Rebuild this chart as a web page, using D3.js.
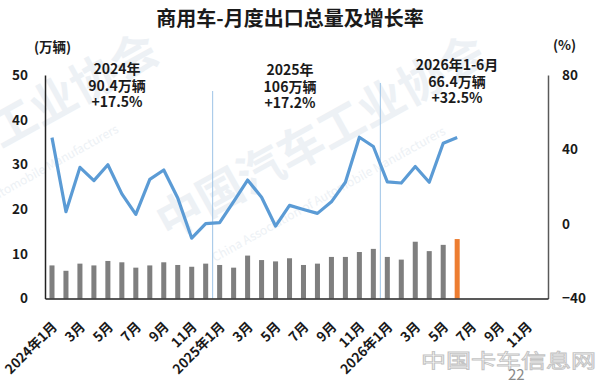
<!DOCTYPE html>
<html lang="zh">
<head>
  <meta charset="UTF-8">
  <title>商用车-月度出口总量及增长率</title>
  <script src="https://d3js.org/d3.v7.min.js"></script>
  <style>
    body { margin: 0; background: #fff; }
    svg { display: block; font-family: "Noto Sans CJK SC", "Noto Sans", sans-serif; }
  </style>
</head>
<body>
<svg id="chart" width="600" height="380"></svg>
<script>
  // 月份 2024年1月 ~ 2026年12月
  const months = [];
  [2024, 2025, 2026].forEach(y => { for (let m = 1; m <= 12; m++) months.push(y + "-" + m); });

  // 出口量 (万辆), 2024.1 - 2026.6
  const volume = [
    7.4, 6.2, 7.8, 7.4, 8.4, 8.1, 6.9, 7.4, 8.1, 7.5, 7.1, 7.8,
    7.5, 6.9, 9.6, 8.6, 8.3, 9.0, 7.5, 7.8, 9.3, 9.3, 10.4, 11.1,
    9.3, 8.7, 12.7, 10.6, 12.0, 13.3
  ];
  // 同比增长率 (%)
  const growth = [
    46.4, 6.6, 30.4, 23.3, 31.8, 16.2, 5.2, 24.0, 29.0, 14.0, -7.6, 0.2,
    0.7, 12.0, 23.6, 14.4, -1.1, 10.0, 7.8, 5.7, 11.9, 22.4, 46.6, 41.6,
    22.6, 22.0, 30.9, 22.4, 43.4, 46.4
  ];
  const leftTicks = [0, 10, 20, 30, 40, 50];
  const rightTicks = [-40, 0, 40, 80];
  const yearNotes = [
    { lines: ["2024年", "90.4万辆", "+17.5%"], x: 117, y: 74 },
    { lines: ["2025年", "106万辆", "+17.2%"], x: 290, y: 75 },
    { lines: ["2026年1-6月", "66.4万辆", "+32.5%"], x: 457, y: 70 }
  ];

  (() => {
  const svg = d3.select("#chart");
  const pl = 45, pr = 548, pt = 75, pb = 298.5;

  // watermarks (faint)
  const wm = svg.append("g").attr("fill", "#edf1f5");
  wm.append("text").attr("transform", "translate(168,240) rotate(-29)")
    .attr("font-size", 46).attr("font-weight", "bold").text("中国汽车工业协会");
  wm.append("text").attr("transform", "translate(215,262) rotate(-29)")
    .attr("font-size", 12).text("China Association of Automobile Manufacturers");
  wm.append("text").attr("transform", "translate(-160,238) rotate(-29)")
    .attr("font-size", 46).attr("font-weight", "bold").text("中国汽车工业协会");
  wm.append("text").attr("transform", "translate(-112,260) rotate(-29)")
    .attr("font-size", 12).text("China Association of Automobile Manufacturers");

  const x = d3.scaleBand().domain(months).range([pl, pr]).paddingInner(0.64).paddingOuter(0.32);
  const yL = d3.scaleLinear().domain([0, 50]).range([pb, pt]);
  const yR = d3.scaleLinear().domain([-40, 80]).range([pb, pt]);
  const cx = i => x(months[i]) + x.bandwidth() / 2;

  // year separators
  svg.selectAll("line.sep")
    .data([{ m: "2025-1", t: 91 }, { m: "2026-1", t: 83 }])
    .enter().append("line")
    .attr("x1", d => x(d.m) - x.step() * 0.32).attr("x2", d => x(d.m) - x.step() * 0.32)
    .attr("y1", d => d.t).attr("y2", pb)
    .attr("stroke", "#9dc3e6").attr("stroke-width", 1);

  // bars
  svg.selectAll("rect.bar")
    .data(volume)
    .enter().append("rect")
    .attr("x", (d, i) => x(months[i]))
    .attr("y", d => yL(d))
    .attr("width", x.bandwidth())
    .attr("height", d => pb - yL(d))
    .attr("fill", (d, i) => i === volume.length - 1 ? "#ed7d31" : "#7f7f7f");

  // growth line
  const line = d3.line().x((d, i) => cx(i)).y(d => yR(d));
  svg.append("path")
    .datum(growth)
    .attr("fill", "none")
    .attr("stroke", "#5b9bd5")
    .attr("stroke-width", 3.2)
    .attr("stroke-linejoin", "round")
    .attr("d", line);

  // axes
  const axL = svg.append("g").attr("transform", `translate(${pl},0)`)
    .call(d3.axisLeft(yL).tickValues(leftTicks).tickSize(0).tickPadding(17));
  const axR = svg.append("g").attr("transform", `translate(${pr},0)`)
    .call(d3.axisRight(yR).tickValues(rightTicks).tickSize(0).tickPadding(14));
  const axB = svg.append("g").attr("transform", `translate(0,${pb})`)
    .call(d3.axisBottom(x).tickSize(0).tickFormat(m => {
      const [yy, mm] = m.split("-");
      return mm === "1" ? `${yy}年1月` : `${mm}月`;
    }));

  [axL, axR].forEach(a => a.selectAll("text")
    .attr("font-size", 13.5).attr("font-weight", "bold").attr("fill", "#1a1a1a")
    .attr("font-family", "Noto Sans CJK SC"));
  axL.select(".domain").attr("stroke", "#222").attr("stroke-width", 1.5);
  axR.select(".domain").attr("stroke", "#595959").attr("stroke-width", 1.5);
  axB.select(".domain").attr("stroke", "#222").attr("stroke-width", 1.5);

  axB.selectAll(".tick").filter((d, i) => i % 2 === 1).remove();
  axB.selectAll("text")
    .attr("font-size", 13.5).attr("font-weight", "bold").attr("fill", "#1a1a1a")
    .attr("font-family", "Noto Sans CJK SC")
    .attr("text-anchor", "end")
    .attr("dy", 0)
    .attr("transform", "translate(4,27) rotate(-45)");

  // title & units
  svg.append("text").attr("x", 290).attr("y", 26).attr("text-anchor", "middle")
    .attr("font-size", 20).attr("font-weight", "bold").attr("fill", "#1a1a1a")
    .text("商用车-月度出口总量及增长率");
  svg.append("text").attr("x", 34).attr("y", 52)
    .attr("font-size", 13.5).attr("font-weight", "bold").attr("fill", "#1a1a1a").text("(万辆)");
  svg.append("text").attr("x", 553).attr("y", 50)
    .attr("font-size", 13.5).attr("font-weight", "bold").attr("fill", "#1a1a1a").text("(%)");

  // year notes
  yearNotes.forEach(n => {
    const t = svg.append("text").attr("text-anchor", "middle")
      .attr("font-size", 14).attr("font-weight", "bold").attr("fill", "#1a1a1a");
    n.lines.forEach((s, k) => t.append("tspan").attr("x", n.x).attr("y", n.y + k * 16.5).text(s));
  });

  // footer logo & page number
  svg.append("text").attr("x", 421).attr("y", 368)
    .attr("font-size", 19).attr("fill", "#fff")
    .attr("textLength", 175).attr("lengthAdjust", "spacingAndGlyphs")
    .attr("stroke", "#c4c4c4").attr("stroke-width", 0.9).text("中国卡车信息网");
  svg.append("text").attr("x", 508).attr("y", 380)
    .attr("font-size", 15).attr("fill", "#8a8a8a").text("22");
  })();
</script>
</body>
</html>
